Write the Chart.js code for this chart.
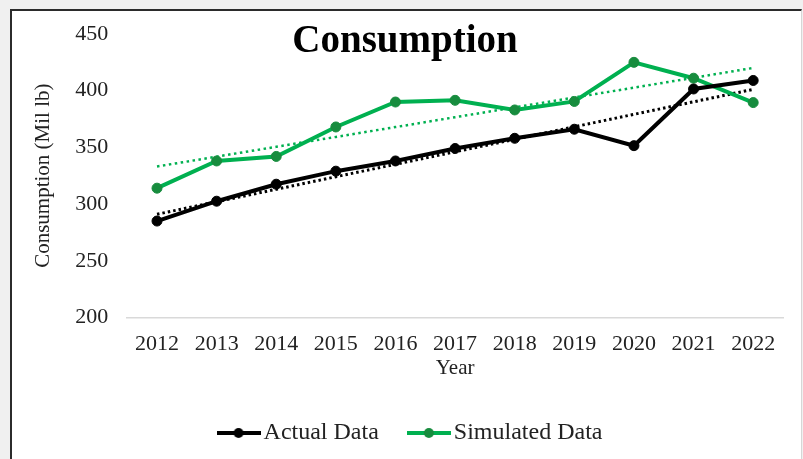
<!DOCTYPE html>
<html>
<head>
<meta charset="utf-8">
<script src="https://cdn.jsdelivr.net/npm/chart.js@4/dist/chart.umd.min.js"></script>
<style>
  html, body { margin: 0; padding: 0; width: 803px; height: 459px; overflow: hidden; background: #f0f0f0; }
  #frame { position: absolute; left: 10px; top: 9px; width: 789px; height: 460px; background: #fff;
           border-top: 2px solid #2b2b2b; border-left: 2px solid #2b2b2b; border-right: 1px solid #d6d6d6; }
  #wrap { position: absolute; left: 0; top: 0; width: 803px; height: 459px; }
</style>
</head>
<body>
<div id="frame"></div>
<div id="wrap"><canvas id="chart"></canvas></div>
<script>
// Annual consumption, million lb
const years = ['2012', '2013', '2014', '2015', '2016', '2017', '2018', '2019', '2020', '2021', '2022'];
const actualData = [285, 302.5, 317.5, 329, 338, 349, 358, 366, 351.5, 401.5, 409];
const simulatedData = [314, 338, 342, 368, 390, 391.5, 383, 390.5, 425, 411, 389.5];
const yTickValues = [200, 250, 300, 350, 400, 450];

const SERIF = '"Liberation Serif", "Times New Roman", serif';
const GREEN = '#00b050';
const GREEN_DOT = '#178c3e';

// Least-squares linear trend through a series
function linearTrend(values) {
  const n = values.length;
  const mx = (n - 1) / 2;
  const my = values.reduce((a, b) => a + b, 0) / n;
  let sxy = 0, sxx = 0;
  values.forEach((v, i) => { sxy += (i - mx) * (v - my); sxx += (i - mx) * (i - mx); });
  const slope = sxy / sxx;
  return values.map((_, i) => my + slope * (i - mx));
}

// Legend marker: short line with a dot in the middle
function legendMarker(lineColor, dotColor) {
  const c = document.createElement('canvas');
  c.width = 44; c.height = 12;
  const g = c.getContext('2d');
  g.strokeStyle = lineColor; g.lineWidth = 4;
  g.beginPath(); g.moveTo(0, 6); g.lineTo(44, 6); g.stroke();
  g.fillStyle = dotColor;
  g.beginPath(); g.arc(22, 6, 5, 0, Math.PI * 2); g.fill();
  return c;
}
const markerActual = legendMarker('#000000', '#000000');
const markerSimulated = legendMarker(GREEN, GREEN_DOT);

// Chart heading drawn over the top of the plot area
const headingPlugin = {
  id: 'heading',
  afterDraw(chart) {
    const ctx = chart.ctx;
    ctx.save();
    ctx.font = 'bold 39px ' + SERIF;
    ctx.fillStyle = '#000';
    ctx.textAlign = 'center';
    ctx.textBaseline = 'alphabetic';
    ctx.fillText('Consumption', 405, 52);
    ctx.restore();
  }
};

// Nudge the legend row a little to the right of centre
const legendShiftPlugin = {
  id: 'legendShift',
  afterLayout(chart) {
    if (chart.legend) { chart.legend.left += 7; chart.legend.right += 7; }
  }
};

new Chart(document.getElementById('chart'), {
  type: 'line',
  data: {
    labels: years,
    datasets: [
      {
        label: 'Actual Data',
        data: actualData,
        borderColor: '#000000',
        backgroundColor: '#000000',
        pointBackgroundColor: '#000000',
        pointBorderColor: '#000000',
        borderWidth: 4,
        pointRadius: 5,
        pointBorderWidth: 1,
        tension: 0,
        order: 1
      },
      {
        label: 'Simulated Data',
        data: simulatedData,
        borderColor: GREEN,
        backgroundColor: GREEN,
        pointBackgroundColor: GREEN_DOT,
        pointBorderColor: GREEN_DOT,
        borderWidth: 4,
        pointRadius: 5,
        pointBorderWidth: 1,
        tension: 0,
        order: 1
      },
      {
        label: 'trend-actual',
        data: linearTrend(actualData),
        borderColor: '#000000',
        borderWidth: 3,
        borderDash: [2.5, 3],
        pointRadius: 0,
        tension: 0,
        order: 2
      },
      {
        label: 'trend-simulated',
        data: linearTrend(simulatedData),
        borderColor: GREEN,
        borderWidth: 2.5,
        borderDash: [2.5, 3.5],
        pointRadius: 0,
        tension: 0,
        order: 2
      }
    ]
  },
  options: {
    responsive: true,
    maintainAspectRatio: false,
    animation: false,
    devicePixelRatio: 1,
    layout: { padding: { top: 34, left: 31, right: 20, bottom: 4 } },
    scales: {
      x: {
        type: 'category',
        offset: true,
        grid: { display: false, drawTicks: false },
        border: { display: true, color: '#d9d9d9', width: 1.5 },
        ticks: { color: '#222', font: { family: SERIF, size: 22 }, padding: 14, maxRotation: 0, autoSkip: false },
        title: { display: true, text: 'Year', color: '#222', font: { family: SERIF, size: 21 }, padding: { top: -16, bottom: 3 } }
      },
      y: {
        min: 200,
        max: 450,
        afterBuildTicks(scale) { scale.ticks = yTickValues.map(v => ({ value: v })); },
        grid: { display: false, drawTicks: false },
        border: { display: false },
        ticks: { color: '#222', font: { family: SERIF, size: 22 }, padding: 19 },
        title: { display: true, text: 'Consumption (Mil lb)', color: '#222', font: { family: SERIF, size: 21 }, padding: { top: 0, bottom: 0 } }
      }
    },
    plugins: {
      legend: {
        position: 'bottom',
        labels: {
          usePointStyle: true,
          pointStyleWidth: 26,
          generateLabels(chart) {
            return [
              { text: 'Actual Data', pointStyle: markerActual, fontColor: '#222', datasetIndex: 0, lineWidth: 0, strokeStyle: 'transparent', fillStyle: 'transparent' },
              { text: 'Simulated Data', pointStyle: markerSimulated, fontColor: '#222', datasetIndex: 1, lineWidth: 0, strokeStyle: 'transparent', fillStyle: 'transparent' }
            ];
          },
          color: '#222',
          font: { family: SERIF, size: 24 },
          padding: 37
        }
      },
      tooltip: { enabled: false }
    }
  },
  plugins: [headingPlugin, legendShiftPlugin]
});
</script>
</body>
</html>
